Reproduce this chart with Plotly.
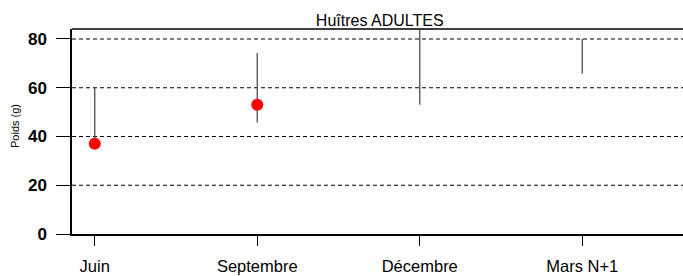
import plotly.graph_objects as go

categories = ["Juin", "Septembre", "Décembre", "Mars N+1"]
point_values = [37, 53, None, None]
range_low = [37, 45.7, 53, 65.7]
range_high = [60, 74.3, 84, 80]
y_ticks = [0, 20, 40, 60, 80]

x_idx = list(range(len(categories)))

fig = go.Figure()

# vertical range lines
for i in x_idx:
    fig.add_trace(go.Scatter(
        x=[i, i], y=[range_low[i], range_high[i]], mode="lines",
        line=dict(color="#4d4d4d", width=1.3), showlegend=False, hoverinfo="skip"))

pts_x = [i for i in x_idx if point_values[i] is not None]
pts_y = [point_values[i] for i in pts_x]
fig.add_trace(go.Scatter(
    x=pts_x, y=pts_y, mode="markers",
    marker=dict(color="#ff0000", size=12, line=dict(width=0)), showlegend=False))

# dashed gridlines
for v in y_ticks[1:]:
    fig.add_shape(type="line", xref="paper", x0=0, x1=1, yref="y", y0=v, y1=v,
                  line=dict(color="black", width=1, dash="4px,3px"), layer="below")

fig.update_layout(
    width=683, height=276,
    margin=dict(l=72, r=0, t=29, b=42),
    paper_bgcolor="white", plot_bgcolor="white",
    title=dict(text="Huîtres ADULTES", x=0.556, xanchor="center", xref="container",
               y=1 - 20 / 276, yanchor="middle",
               font=dict(family="Arial, Liberation Sans", size=16, color="black")),
    font=dict(family="Arial, Liberation Sans", color="black"),
    xaxis=dict(range=[-0.14, 3.62], tickmode="array", tickvals=x_idx, ticktext=categories,
               showgrid=False, zeroline=False, showline=True, linecolor="black", linewidth=1.5,
               ticks="outside", ticklen=10, tickwidth=1, tickcolor="black",
               tickfont=dict(size=16.5), ticklabelstandoff=6, automargin=False),
    yaxis=dict(range=[0, 84.1], tickmode="array", tickvals=y_ticks,
               showgrid=False, zeroline=False, showline=True, linecolor="black", linewidth=1.5,
               mirror=False, ticks="outside", ticklen=14, tickwidth=1, tickcolor="black",
               tickfont=dict(size=17, weight="bold"), ticklabelstandoff=6, automargin=False),
)
# y axis title as annotation
fig.add_annotation(text="Poids (g)", textangle=-90, xref="paper", yref="paper",
                   x=-72 / 611 + 15 / 611, y=1 - (126 - 29) / 205,
                   xanchor="center", yanchor="middle", showarrow=False,
                   font=dict(size=11, color="black"))
# top border
fig.add_shape(type="line", xref="paper", yref="paper", x0=0, x1=1, y0=1, y1=1,
              line=dict(color="black", width=1.5))

fig.write_html("out.html", config={"displayModeBar": False},
               post_script="document.body.style.margin='0';document.body.style.overflow='hidden';")
